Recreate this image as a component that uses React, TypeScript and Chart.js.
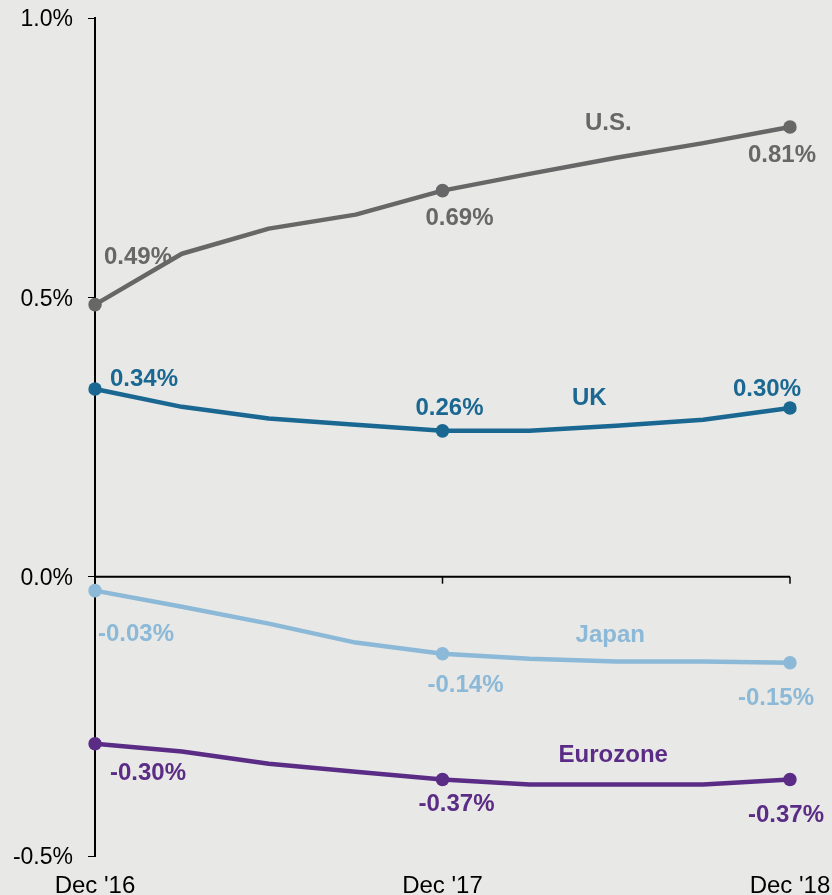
import React, { useEffect, useRef } from "react";
import { Chart, registerables } from "chart.js";

Chart.register(...registerables);

const categories = ["Dec '16", "Mar '17", "Jun '17", "Sep '17", "Dec '17", "Mar '18", "Jun '18", "Sep '18", "Dec '18"];
const shownTicks = [0, 4, 8];

const usValues = [0.487, 0.578, 0.623, 0.648, 0.691, 0.721, 0.75, 0.776, 0.805];
const ukValues = [0.336, 0.304, 0.283, 0.272, 0.261, 0.261, 0.27, 0.281, 0.302];
const japanValues = [-0.025, -0.054, -0.084, -0.118, -0.138, -0.147, -0.152, -0.152, -0.154];
const euroValues = [-0.299, -0.313, -0.335, -0.349, -0.363, -0.372, -0.372, -0.372, -0.363];

const usLabels = ["0.49%", "0.69%", "0.81%"];
const ukLabels = ["0.34%", "0.26%", "0.30%"];
const japanLabels = ["-0.03%", "-0.14%", "-0.15%"];
const euroLabels = ["-0.30%", "-0.37%", "-0.37%"];

const yTicks = [-0.5, 0, 0.5, 1.0];

const FONT = '"Liberation Sans", Arial, sans-serif';

const series = [
  { name: "U.S.", values: usValues, labels: usLabels, color: "#676767",
    offsets: [[43, -49], [17, 26], [-8, 26]], nameOff: [-8, -36] },
  { name: "UK", values: ukValues, labels: ukLabels, color: "#1a6892",
    offsets: [[49, -12], [7, -24], [-23, -21]], nameOff: [-27, -29] },
  { name: "Japan", values: japanValues, labels: japanLabels, color: "#8bb9d7",
    offsets: [[41, 42], [23, 30], [-14, 34]], nameOff: [-6, -28] },
  { name: "Eurozone", values: euroValues, labels: euroLabels, color: "#5b2c86",
    offsets: [[53, 28], [14, 23], [-4, 34]], nameOff: [-3, -31] },
];

const nameIdx = 6;
const textShiftY = 2;

const bgPlugin = {
  id: "bg",
  beforeDraw(chart: any) {
    const ctx = chart.ctx;
    ctx.save();
    ctx.fillStyle = "#e8e8e6";
    ctx.fillRect(0, 0, chart.width, chart.height);
    ctx.restore();
  },
};

const zeroAxisPlugin = {
  id: "zeroAxis",
  beforeDatasetsDraw(chart: any) {
    const { ctx, chartArea, scales } = chart;
    const y0 = scales.y.getPixelForValue(0);
    ctx.save();
    ctx.strokeStyle = "#000";
    ctx.lineWidth = 2;
    ctx.beginPath();
    ctx.moveTo(chartArea.left, y0);
    ctx.lineTo(chartArea.right, y0);
    ctx.stroke();
    ctx.lineWidth = 1.5;
    shownTicks.forEach((i) => {
      if (i === 0) return;
      const x = scales.x.getPixelForValue(i);
      ctx.beginPath();
      ctx.moveTo(x, y0);
      ctx.lineTo(x, y0 + 7);
      ctx.stroke();
    });
    ctx.restore();
  },
};

const labelPlugin = {
  id: "seriesLabels",
  afterDatasetsDraw(chart: any) {
    const ctx = chart.ctx;
    ctx.save();
    ctx.font = `bold 24px ${FONT}`;
    ctx.textAlign = "center";
    ctx.textBaseline = "middle";
    series.forEach((s, di) => {
      const meta = chart.getDatasetMeta(di);
      ctx.fillStyle = s.color;
      shownTicks.forEach((idx, k) => {
        const p = meta.data[idx];
        ctx.fillText(s.labels[k], p.x + s.offsets[k][0], p.y + s.offsets[k][1] + textShiftY);
      });
      const p = meta.data[nameIdx];
      ctx.fillText(s.name, p.x + s.nameOff[0], p.y + s.nameOff[1] + textShiftY);
    });
    ctx.restore();
  },
};

export default function App() {
  const ref = useRef<HTMLCanvasElement | null>(null);

  useEffect(() => {
    document.body.style.margin = "0";
    document.body.style.background = "#e8e8e6";
    const canvas = ref.current;
    if (!canvas) return;
    const radius = categories.map((_, i) => (shownTicks.includes(i) ? 6.8 : 0));
    const chart = new Chart(canvas, {
      type: "line",
      data: {
        labels: categories,
        datasets: series.map((s) => ({
          label: s.name,
          data: s.values,
          borderColor: s.color,
          backgroundColor: s.color,
          pointBackgroundColor: s.color,
          pointBorderWidth: 0,
          pointRadius: radius,
          borderWidth: 4.5,
          tension: 0,
          borderCapStyle: "round",
          borderJoinStyle: "round",
          fill: false,
        })),
      },
      options: {
        responsive: false,
        animation: false,
        events: [],
        layout: { padding: { top: 18, right: 42, left: 0, bottom: 0 } },
        plugins: {
          legend: { display: false },
          tooltip: { enabled: false },
          title: { display: false },
        },
        scales: {
          x: {
            type: "category",
            offset: false,
            grid: { display: false },
            border: { display: false },
            afterFit: (scale: any) => {
              scale.height = 39;
              scale.paddingLeft = 0;
              scale.paddingRight = 0;
            },
            ticks: {
              autoSkip: false,
              maxRotation: 0,
              minRotation: 0,
              padding: 8,
              color: "#000",
              font: { family: FONT, size: 24 },
              callback: (_v: any, i: number) => (shownTicks.includes(i) ? categories[i] : ""),
            },
          },
          y: {
            min: -0.5,
            max: 1.0,
            afterFit: (scale: any) => {
              scale.width = 95;
              scale.paddingTop = 0;
              scale.paddingBottom = 0;
            },
            afterBuildTicks: (scale: any) => {
              scale.ticks = yTicks.map((v) => ({ value: v }));
            },
            grid: {
              drawOnChartArea: false,
              drawTicks: true,
              tickLength: 7,
              tickColor: "#000",
              lineWidth: 1,
            },
            border: { display: true, color: "#000", width: 2 },
            ticks: {
              padding: 15,
              labelOffset: 2,
              color: "#000",
              font: { family: FONT, size: 23 },
              callback: (v: any) => Number(v).toFixed(1) + "%",
            },
          },
        },
      },
      plugins: [bgPlugin, zeroAxisPlugin, labelPlugin],
    });
    return () => chart.destroy();
  }, []);

  return (
    <div style={{ width: 832, height: 895, background: "#e8e8e6" }}>
      <canvas ref={ref} width={832} height={895} style={{ display: "block" }} />
    </div>
  );
}
